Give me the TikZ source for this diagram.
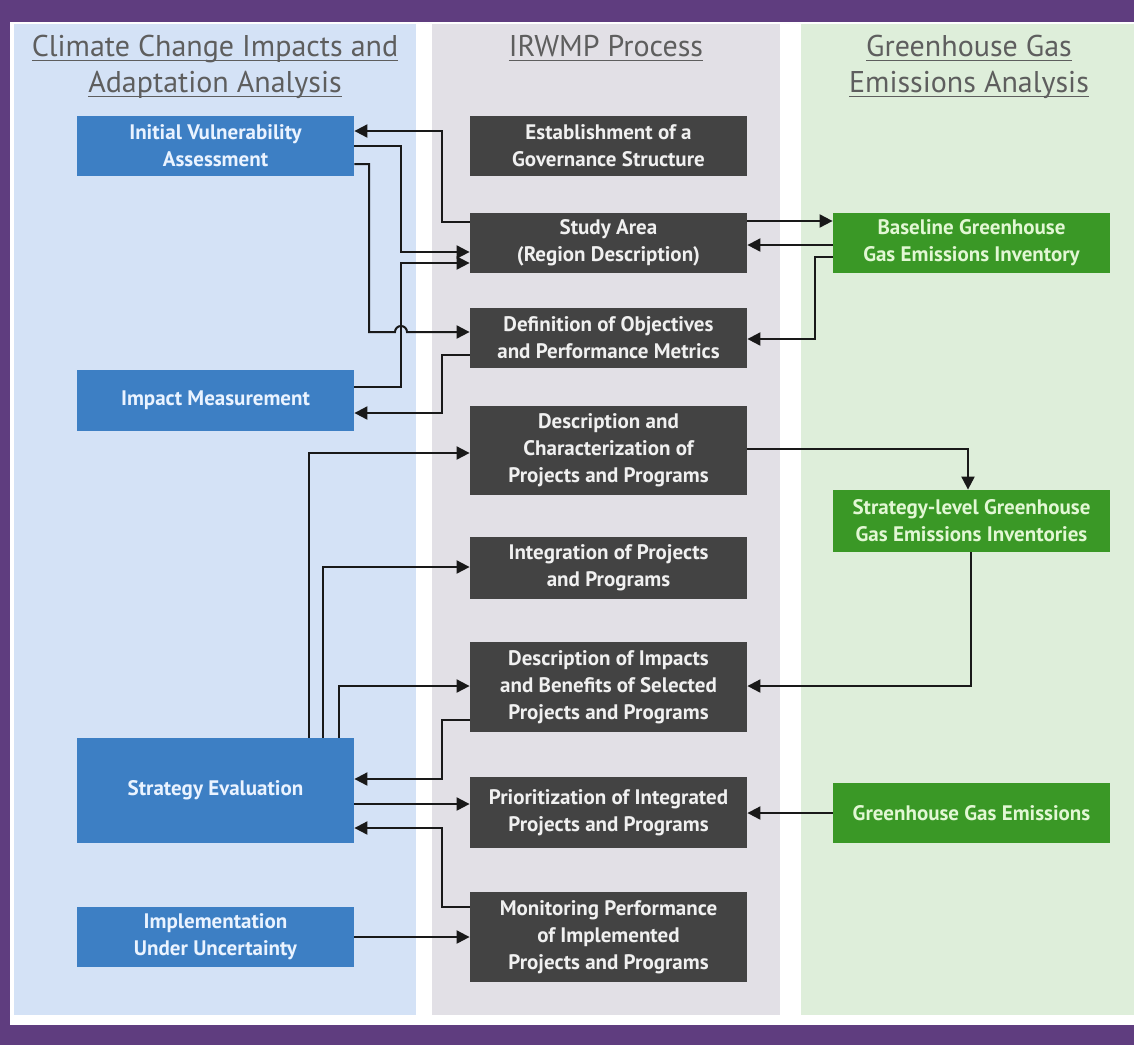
\documentclass[tikz,border=0pt]{standalone}
\usepackage{fontspec}
\setmainfont{PT Sans}
\usepackage{tikz}
\usetikzlibrary{arrows.meta}
\usetikzlibrary{positioning}
\definecolor{framepurple}{HTML}{5F3D7F}
\definecolor{colblue}{HTML}{D4E2F6}
\definecolor{colgrey}{HTML}{E2E0E6}
\definecolor{colgreen}{HTML}{DEEEDA}
\definecolor{boxblue}{HTML}{3D7FC4}
\definecolor{boxgrey}{HTML}{434343}
\definecolor{boxgreen}{HTML}{3A9826}
\definecolor{textblue}{HTML}{EAF3FF}
\definecolor{textgreen}{HTML}{E2F7D4}
\definecolor{headgrey}{HTML}{5E5E5E}
\tikzset{box/.style = {inner sep = 0, align = center, minimum width = 138.5pt, minimum height = 30pt, font = \bfseries\fontsize{10.5}{13.5}\selectfont}}
\tikzset{bluebox/.style = {box, fill = boxblue, text = textblue}}
\tikzset{greybox/.style = {box, fill = boxgrey, text = white!94!black}}
\tikzset{greenbox/.style = {box, fill = boxgreen, text = textgreen}}
\tikzset{heading/.style = {align = center, text = headgrey, font = \fontsize{15}{18}\selectfont}}
\tikzset{flow/.style = {line width = 1pt, draw = black!90, -{Triangle[length = 6.5pt, width = 6.5pt]}}}
\newcommand\undl[1]{\setbox0\hbox{#1}\rlap{\rule[-2pt]{\wd0}{0.5pt}}\box0}

\begin{document}
\begin{tikzpicture}[x = 0.5pt, y = -0.5pt]
        \fill [framepurple] (0,0) rectangle (1134,1045);
        \fill [white] (10,22) rectangle (1134,1025);
        \fill [colblue] (14,24) rectangle (416,1015);
        \fill [colgrey] (432,24) rectangle (780,1015);
        \fill [colgreen] (801,24) rectangle (1134,1015);
        \node[heading] (ClimateHead) at (215,67) {\undl{Climate Change Impacts and}\\\undl{Adaptation Analysis}};
        \node[heading] (ProcessHead) at (606,48) {\undl{IRWMP Process}};
        \node[heading] (GHGHead) at (969,67) {\undl{Greenhouse Gas}\\\undl{Emissions Analysis}};
        \node[bluebox] (InitialVulnerability) at (215.5,146) {Initial Vulnerability\\Assessment};
        \node[bluebox, minimum height = 30.5pt] (ImpactMeasurement) at (215.5,400.5) {Impact Measurement};
        \node[bluebox, minimum height = 52.5pt] (StrategyEvaluation) at (215.5,790.5) {Strategy Evaluation};
        \node[bluebox] (Implementation) at (215.5,937) {Implementation\\Under Uncertainty};
        \node[greybox] (Governance) at (608.5,146) {Establishment of a\\Governance Structure};
        \node[greybox] (StudyArea) at (608.5,243) {Study Area\\(Region Description)};
        \node[greybox] (DefinitionObjectives) at (608.5,338) {Definition of Objectives\\and Performance Metrics};
        \node[greybox, minimum height = 44.5pt] (DescriptionProjects) at (608.5,450.5) {Description and\\Characterization of\\Projects and Programs};
        \node[greybox, minimum height = 31pt] (IntegrationProjects) at (608.5,568) {Integration of Projects\\and Programs};
        \node[greybox, minimum height = 45pt] (ImpactsBenefits) at (608.5,687) {Description of Impacts\\and Benefits of Selected\\Projects and Programs};
        \node[greybox, minimum height = 35.5pt] (Prioritization) at (608.5,812.5) {Prioritization of Integrated\\Projects and Programs};
        \node[greybox, minimum height = 45pt] (MonitoringPerformance) at (608.5,937) {Monitoring Performance\\of Implemented\\Projects and Programs};
        \node[greenbox] (BaselineInventory) at (971.5,243) {Baseline Greenhouse\\Gas Emissions Inventory};
        \node[greenbox, minimum height = 31pt] (StrategyInventories) at (971.5,521) {Strategy-level Greenhouse\\Gas Emissions Inventories};
        \node[greenbox] (GHGEmissions) at (971.5,813) {Greenhouse Gas Emissions};
        \draw[flow] (StudyArea.west |- 0,222) -| (442,131) -- (InitialVulnerability.east |- 0,131);
        \draw[flow] (InitialVulnerability.east |- 0,146) -| (401,252) -- (StudyArea.west |- 0,252);
        \draw[flow] (InitialVulnerability.east |- 0,164) -| (369,332) -- (395,332) arc[start angle = 180, end angle = 360, radius = 6] -- (DefinitionObjectives.west |- 0,332);
        \draw[flow] (ImpactMeasurement.east |- 0,387) -| (401,263) -- (StudyArea.west |- 0,263);
        \draw[flow] (DefinitionObjectives.west |- 0,355) -| (442,413) -- (ImpactMeasurement.east |- 0,413);
        \draw[flow] (StudyArea.east |- 0,221) -- (BaselineInventory.west |- 0,221);
        \draw[flow] (BaselineInventory.west |- 0,245) -- (StudyArea.east |- 0,245);
        \draw[flow] (BaselineInventory.west |- 0,257) -| (815,339) -- (DefinitionObjectives.east |- 0,339);
        \draw[flow] (StrategyEvaluation.north -| 309,0) |- (DescriptionProjects.west |- 0,453);
        \draw[flow] (StrategyEvaluation.north -| 323,0) |- (IntegrationProjects.west |- 0,567);
        \draw[flow] (StrategyEvaluation.north -| 339,0) |- (ImpactsBenefits.west |- 0,686);
        \draw[flow] (ImpactsBenefits.west |- 0,720) -| (442,779) -- (StrategyEvaluation.east |- 0,779);
        \draw[flow] (StrategyEvaluation.east |- 0,804) -- (Prioritization.west |- 0,804);
        \draw[flow] (MonitoringPerformance.west |- 0,907) -| (442,828) -- (StrategyEvaluation.east |- 0,828);
        \draw[flow] (Implementation.east |- 0,937) -- (MonitoringPerformance.west |- 0,937);
        \draw[flow] (DescriptionProjects.east |- 0,449) -| (StrategyInventories.north -| 968,0);
        \draw[flow] (StrategyInventories.south -| 971,0) |- (ImpactsBenefits.east |- 0,686);
        \draw[flow] (GHGEmissions.west |- 0,813) -- (Prioritization.east |- 0,813);
    \end{tikzpicture}
\end{document}
